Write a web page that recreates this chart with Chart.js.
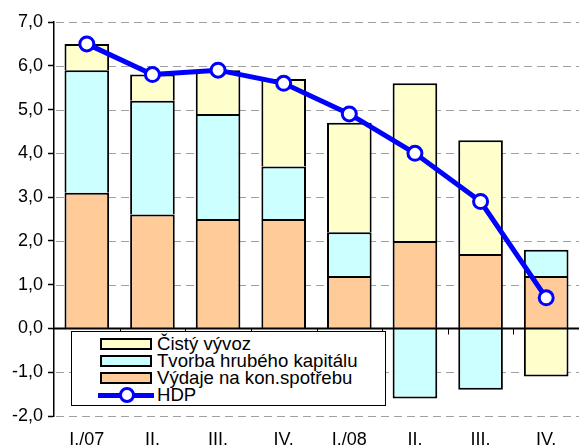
<!DOCTYPE html>
<html>
<head>
<meta charset="utf-8">
<script src="https://cdn.jsdelivr.net/npm/chart.js@4"></script>
<style>
  html, body { margin: 0; padding: 0; background: #fff; overflow: hidden; }
  #wrap { position: relative; width: 589px; height: 448px; }
  #legendBox {
    position: absolute; left: 71px; top: 331px; width: 313px; height: 73px;
    background: #fff; border: 1px solid #000;
    font-family: "Liberation Sans", Arial, sans-serif; font-size: 18.6px; color: #000;
  }
  .sw { position: absolute; left: 28px; width: 48px; height: 8px; border: 2px solid #000; }
  .lbl { position: absolute; left: 85px; line-height: 17px; white-space: nowrap; }
</style>
</head>
<body>
<div id="wrap">
  <canvas id="gdpChart" width="589" height="448"></canvas>
  <div id="legendBox"></div>
</div>
<script>
// Quarters and contributions to GDP growth (p.b.)
const quarters = ['I./07', 'II.', 'III.', 'IV.', 'I./08', 'II.', 'III.', 'IV.'];
const spotreba = [3.1, 2.6, 2.5, 2.5, 1.2, 2.0, 1.7, 1.2];
const kapital = [2.8, 2.6, 2.4, 1.2, 1.0, -1.6, -1.4, 0.6];
const vyvoz = [0.6, 0.6, 1.0, 2.0, 2.5, 3.6, 2.6, -1.1];
const hdp = [6.5, 5.8, 5.9, 5.6, 4.9, 4.0, 2.9, 0.7];

const yMin = -2, yMax = 7, yStep = 1;

const barSeries = [spotreba, kapital, vyvoz];

// each segment draws only its outer edge, so stacked edges stay 2px
function segBorder(ctx) {
  const v = barSeries[ctx.datasetIndex][ctx.dataIndex];
  if (v >= 0) return { left: 2, right: 2, top: 2, bottom: 0 };
  return { left: 2, right: 2, top: 0, bottom: 2 };
}

// dashed grid under the bars
const gridLines = {
  id: 'gridLines',
  beforeDatasetsDraw(chart) {
    const c = chart.ctx, y = chart.scales.y;
    const area = chart.chartArea;
    c.save();
    c.strokeStyle = '#a0a0a0';
    c.lineWidth = 1;
    c.setLineDash([8, 5]);
    y.ticks.forEach(t => {
      if (t.value === 0) return;
      const py = Math.round(y.getPixelForValue(t.value)) + 0.5;
      c.beginPath();
      c.moveTo(area.left + 2, py);
      c.lineTo(area.right, py);
      c.stroke();
    });
    c.restore();
  },
  // solid zero line with small ticks between categories
  afterDatasetsDraw(chart) {
    const c = chart.ctx, x = chart.scales.x, y = chart.scales.y;
    const area = chart.chartArea;
    const y0 = y.getPixelForValue(0);
    c.save();
    c.strokeStyle = '#000';
    c.lineWidth = 2;
    c.beginPath();
    c.moveTo(area.left, y0);
    c.lineTo(area.right, y0);
    c.stroke();
    c.lineWidth = 1;
    c.beginPath();
    for (let i = 1; i < quarters.length; i++) {
      const px = Math.round((x.getPixelForValue(i - 1) + x.getPixelForValue(i)) / 2) + 0.5;
      c.moveTo(px, y0);
      c.lineTo(px, y0 + 6);
    }
    c.stroke();
    c.restore();
  }
};

const bar = (label, data, color) => ({
  type: 'bar',
  label: label,
  data: data,
  backgroundColor: color,
  borderColor: '#000',
  borderWidth: segBorder,
  borderSkipped: false,
  barPercentage: 0.68,
  categoryPercentage: 1,
  order: 1
});

const ctx = document.getElementById('gdpChart').getContext('2d');
const chart = new Chart(ctx, {
  data: {
    labels: quarters,
    datasets: [
      bar('Výdaje na kon.spotřebu', spotreba, '#FFCC99'),
      bar('Tvorba hrubého kapitálu', kapital, '#CCFFFF'),
      bar('Čistý vývoz', vyvoz, '#FFFFCC'),
      {
        type: 'line',
        label: 'HDP',
        data: hdp,
        borderColor: '#0000FF',
        borderWidth: 5,
        pointRadius: 7,
        pointBorderWidth: 3,
        pointBackgroundColor: '#fff',
        pointBorderColor: '#0000FF',
        tension: 0,
        order: 0
      }
    ]
  },
  options: {
    responsive: false,
    animation: false,
    layout: { padding: { top: 22, left: 0, right: 0, bottom: 0 } },
    plugins: { legend: { display: false }, tooltip: { enabled: false } },
    scales: {
      x: {
        stacked: true,
        grid: { display: false, drawTicks: false },
        border: { display: false },
        ticks: {
          color: '#000',
          padding: 13,
          maxRotation: 0,
          font: { family: 'Liberation Sans', size: 18 }
        },
        afterFit(s) { s.height = 32; }
      },
      y: {
        stacked: true,
        min: yMin,
        max: yMax,
        grid: { drawOnChartArea: false, tickLength: 6, tickColor: '#000', tickWidth: 1.5 },
        border: { display: true, color: '#000', width: 1.5 },
        ticks: {
          stepSize: yStep,
          color: '#000',
          padding: 5,
          font: { family: 'Liberation Sans', size: 18 },
          callback: v => v.toFixed(1).replace('.', ',')
        },
        afterFit(s) { s.width = 54; }
      }
    }
  },
  plugins: [gridLines]
});

// legend box drawn inside the plot, as in the original
const legendItems = [
  { text: 'Čistý vývoz', color: '#FFFFCC' },
  { text: 'Tvorba hrubého kapitálu', color: '#CCFFFF' },
  { text: 'Výdaje na kon.spotřebu', color: '#FFCC99' },
  { text: 'HDP', line: true }
];
const box = document.getElementById('legendBox');
legendItems.forEach((item, i) => {
  const cy = 12 + i * 17;
  if (item.line) {
    const ln = document.createElement('div');
    ln.style.cssText = 'position:absolute;left:26px;width:56px;height:5px;background:#0000FF;top:' + (cy - 2) + 'px';
    box.appendChild(ln);
    const dot = document.createElement('div');
    dot.style.cssText = 'position:absolute;left:47px;width:10px;height:10px;border:3px solid #0000FF;border-radius:50%;background:#fff;top:' + (cy - 8) + 'px';
    box.appendChild(dot);
  } else {
    const sw = document.createElement('div');
    sw.className = 'sw';
    sw.style.background = item.color;
    sw.style.top = (cy - 6) + 'px';
    box.appendChild(sw);
  }
  const t = document.createElement('div');
  t.className = 'lbl';
  t.style.top = (cy - 9) + 'px';
  t.textContent = item.text;
  box.appendChild(t);
});
</script>
</body>
</html>
